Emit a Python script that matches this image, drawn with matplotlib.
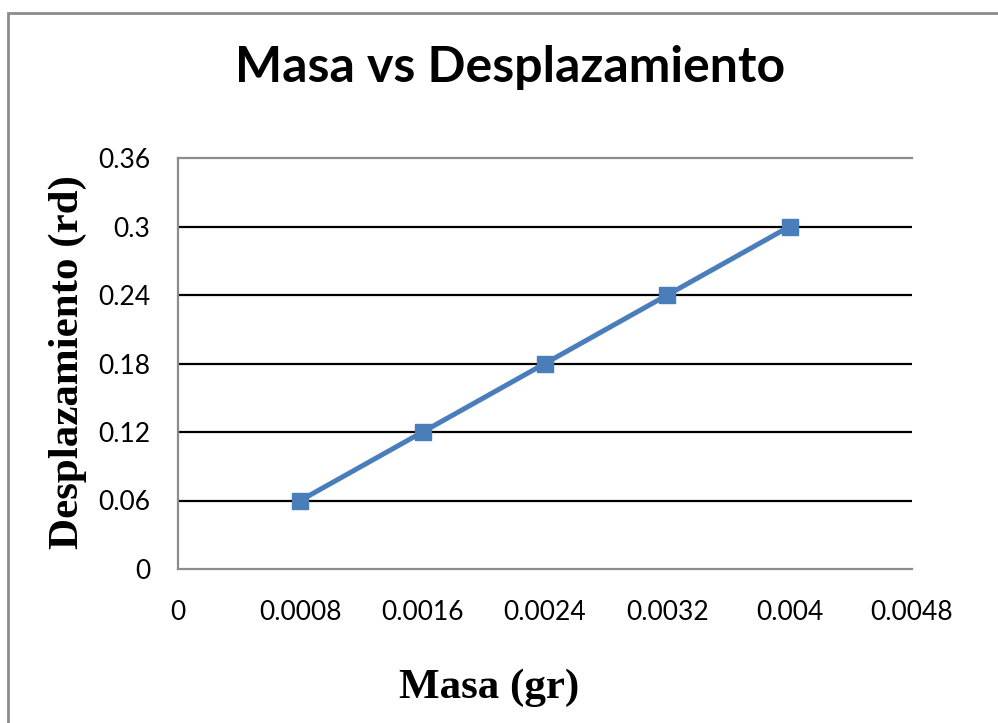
import matplotlib.pyplot as plt
from matplotlib.patches import Rectangle

masa = [0.0008, 0.0016, 0.0024, 0.0032, 0.004]
desplazamiento = [0.06, 0.12, 0.18, 0.24, 0.30]

x_ticks = [0, 0.0008, 0.0016, 0.0024, 0.0032, 0.004, 0.0048]
x_labels = ['0', '0.0008', '0.0016', '0.0024', '0.0032', '0.004', '0.0048']
y_ticks = [0, 0.06, 0.12, 0.18, 0.24, 0.30, 0.36]
y_labels = ['0', '0.06', '0.12', '0.18', '0.24', '0.3', '0.36']

fig = plt.figure(figsize=(9.98, 7.23), dpi=100)
fig.patches.append(Rectangle((8 / 998, -0.1), 1.1, (723 - 13) / 723 + 0.1,
                             transform=fig.transFigure, fill=False,
                             edgecolor='#8c8c8c', linewidth=2))

ax = fig.add_axes([178 / 998, 154 / 723, 734 / 998, 411 / 723])

for v in y_ticks[1:-1]:
    ax.axhline(v, color='black', linewidth=1.6, zorder=1)

ax.plot(masa, desplazamiento, color='#4a7ebb', linewidth=3.6,
        marker='s', markersize=11, zorder=3)

ax.set_xlim(x_ticks[0], x_ticks[-1])
ax.set_ylim(y_ticks[0], y_ticks[-1])
ax.set_xticks(x_ticks, x_labels)
ax.set_yticks(y_ticks, y_labels)
ax.tick_params(length=0, labelsize=19)
ax.tick_params(axis='x', pad=22)
ax.tick_params(axis='y', pad=20)
for lab in ax.get_xticklabels() + ax.get_yticklabels():
    lab.set_family('Lato')

for side in ['left', 'bottom', 'top']:
    ax.spines[side].set_color('#8c8c8c')
    ax.spines[side].set_linewidth(1.6)
ax.spines['right'].set_visible(False)

fig.text(510 / 998, 1 - 68 / 723, 'Masa vs Desplazamiento', ha='center', va='center',
         fontsize=36, fontweight='bold', family='Lato')
fig.text(489 / 998, 1 - 688 / 723, 'Masa (gr)', ha='center', va='center',
         fontsize=31, fontweight='bold', family='Liberation Serif')
fig.text(68 / 998, 1 - 362 / 723, 'Desplazamiento (rd)', ha='center', va='center',
         rotation=90, fontsize=31, fontweight='bold', family='Liberation Serif')

fig.savefig('out.png', dpi=100)
